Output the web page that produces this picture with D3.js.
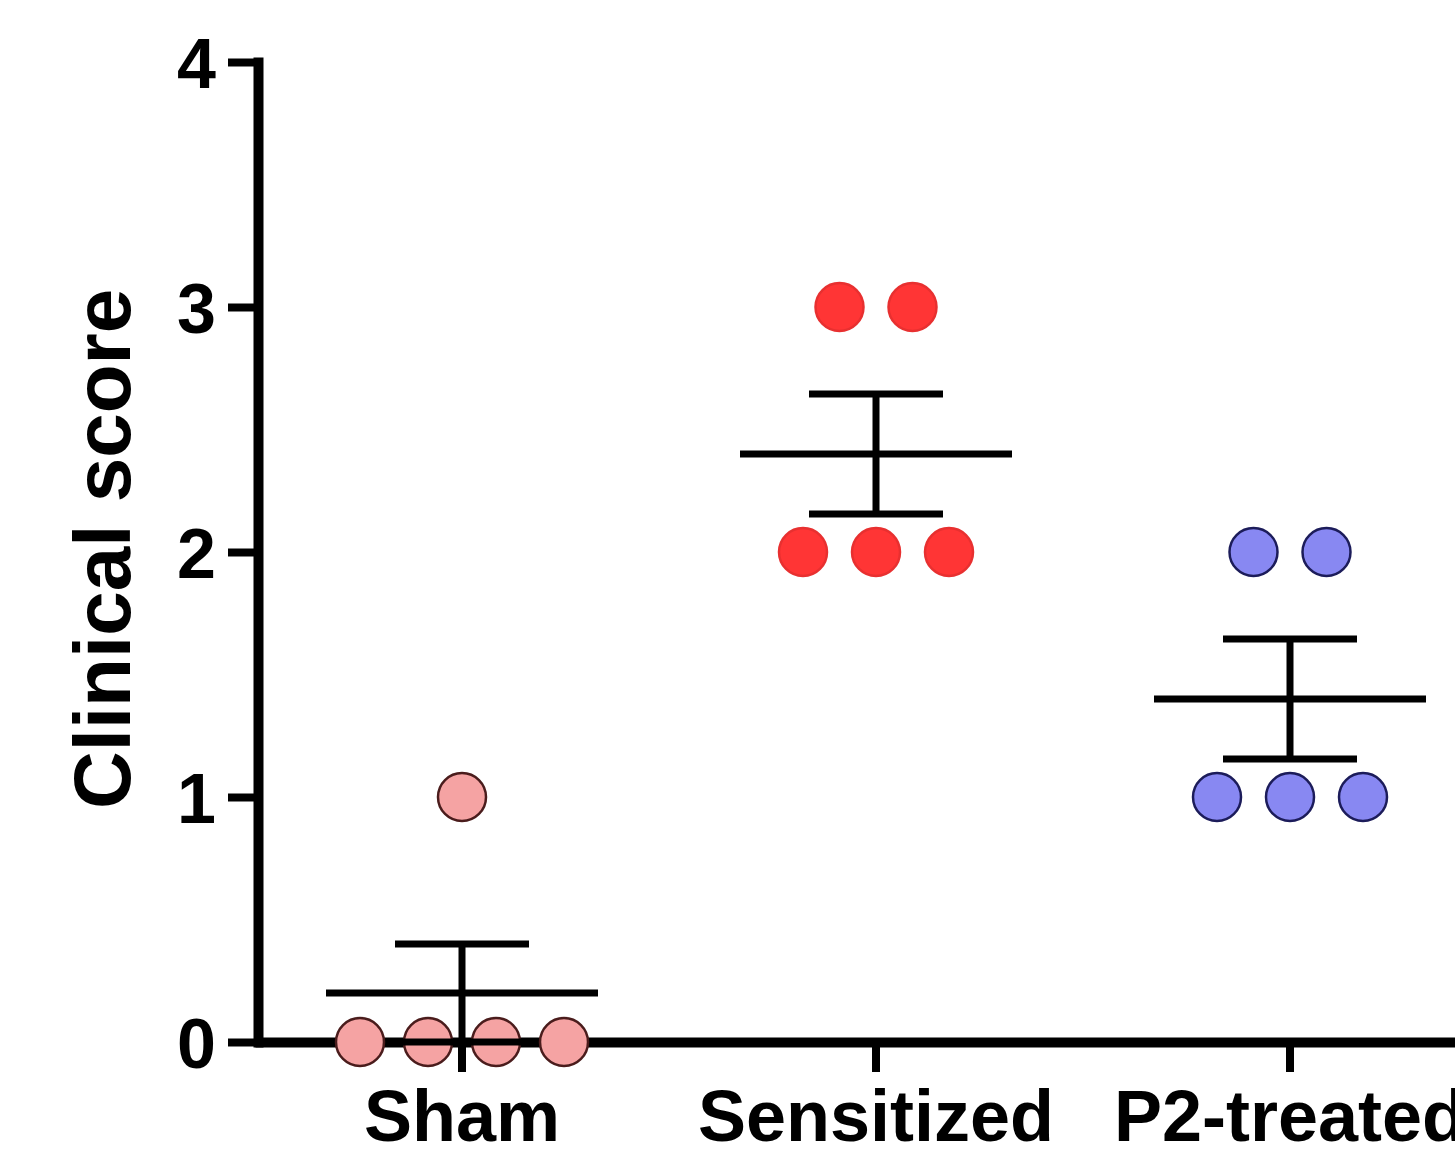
<!DOCTYPE html>
<html>
<head>
<meta charset="utf-8">
<script src="https://cdn.jsdelivr.net/npm/d3@7"></script>
<style>
  html, body { margin: 0; padding: 0; background: #fff; }
  svg { display: block; }
  text { font-family: "Liberation Sans", Arial, sans-serif; font-weight: bold; fill: #000; }
</style>
</head>
<body>
<svg id="chart" width="1455" height="1150"></svg>
<script>
// ---- data ----
const categories = ["Sham", "Sensitized", "P2-treated"];
const shamScores = [1, 0, 0, 0, 0];
const sensitizedScores = [3, 3, 2, 2, 2];
const p2Scores = [2, 2, 1, 1, 1];
const yTicks = [0, 1, 2, 3, 4];
const yLabel = "Clinical score";
const fillColors = ["#F5A3A3", "#FF3535", "#8888F2"];
const strokeColors = ["#4a1c1c", "#e83030", "#1c1c5a"];

const groups = [shamScores, sensitizedScores, p2Scores];

const svg = d3.select("#chart");

const y = d3.scaleLinear().domain([0, 4]).range([1042, 62]);
const x = d3.scaleBand().domain(categories).range([255, 1497]).padding(0);
const cx = c => x(c) + x.bandwidth() / 2;

// ---- y axis ----
const yAxis = svg.append("g")
  .attr("transform", "translate(258,0)")
  .call(d3.axisLeft(y).tickValues(yTicks).tickFormat(d3.format("d")).tickSize(30).tickSizeOuter(0).tickPadding(12));
yAxis.select(".domain").attr("stroke", "#000").attr("stroke-width", 10).attr("stroke-linecap", "square");
yAxis.selectAll(".tick line").attr("stroke", "#000").attr("stroke-width", 8);
yAxis.selectAll(".tick text").attr("font-size", 70).attr("font-weight", "bold")
  .attr("font-family", "Liberation Sans, Arial, sans-serif").attr("fill", "#000").attr("dy", "0.36em");

// ---- x axis ----
const xAxis = svg.append("g")
  .attr("transform", `translate(0,${y(0)})`)
  .call(d3.axisBottom(x).tickSize(30).tickSizeOuter(0).tickPadding(18));
xAxis.select(".domain").attr("stroke", "#000").attr("stroke-width", 10);
xAxis.selectAll(".tick line").attr("stroke", "#000").attr("stroke-width", 8);
xAxis.selectAll(".tick text").attr("font-size", 72).attr("font-weight", "bold")
  .attr("font-family", "Liberation Sans, Arial, sans-serif").attr("fill", "#000").attr("dy", "0.71em");

// ---- y label ----
svg.append("text")
  .attr("transform", `translate(130,${(y(0) + y(4)) / 2 - 3}) rotate(-90)`)
  .attr("text-anchor", "middle")
  .attr("font-size", 80)
  .text(yLabel);

// ---- points (scatter with horizontal spread for ties) ----
const spacing = [68, 73, 73];
const dotR = 24;
groups.forEach((vals, gi) => {
  const cat = categories[gi];
  const counts = d3.rollup(vals, v => v.length, d => d);
  const seen = new Map();
  const pts = vals.map(v => {
    const n = counts.get(v);
    const k = seen.get(v) || 0;
    seen.set(v, k + 1);
    return { v, off: (k - (n - 1) / 2) * spacing[gi] };
  });
  svg.append("g").selectAll("circle").data(pts).join("circle")
    .attr("cx", d => cx(cat) + d.off)
    .attr("cy", d => y(d.v))
    .attr("r", dotR)
    .attr("fill", fillColors[gi])
    .attr("stroke", strokeColors[gi])
    .attr("stroke-width", 2.5);
});

// ---- mean ± SEM ----
groups.forEach((vals, gi) => {
  const cat = categories[gi];
  const m = d3.mean(vals);
  const sem = d3.deviation(vals) / Math.sqrt(vals.length);
  const g = svg.append("g").attr("stroke", "#000").attr("stroke-width", 7);
  const c = cx(cat);
  g.append("line").attr("x1", c - 136).attr("x2", c + 136).attr("y1", y(m)).attr("y2", y(m));
  g.append("line").attr("x1", c).attr("x2", c).attr("y1", y(m - sem)).attr("y2", y(m + sem));
  [m - sem, m + sem].forEach(v => {
    g.append("line").attr("x1", c - 67).attr("x2", c + 67).attr("y1", y(v)).attr("y2", y(v));
  });
});
</script>
</body>
</html>
